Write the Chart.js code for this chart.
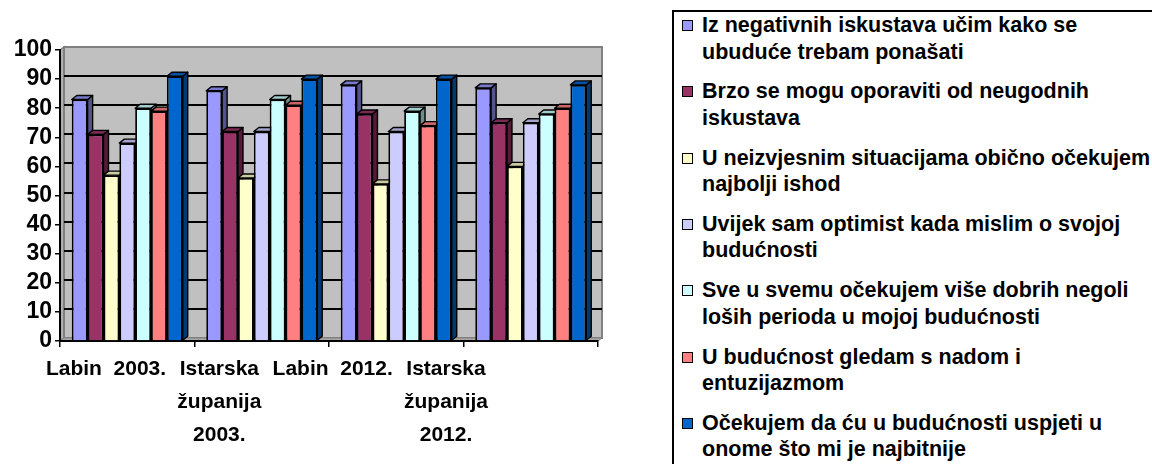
<!DOCTYPE html>
<html>
<head>
<meta charset="utf-8">
<script src="https://cdn.jsdelivr.net/npm/chart.js@4.4.0/dist/chart.umd.min.js"></script>
<style>
html,body{margin:0;padding:0;background:#fff;width:1152px;height:464px;overflow:hidden;}
#wrap{position:absolute;left:0;top:0;width:640px;height:464px;}
#legend{position:absolute;left:672px;top:10px;width:520px;height:490px;border:2px solid #000;box-sizing:border-box;
  font-family:"Liberation Sans",Arial,sans-serif;font-weight:bold;font-size:21.5px;line-height:26.5px;color:#000;}
.item{position:absolute;left:0;width:500px;}
.sw{position:absolute;left:8px;top:8px;width:9px;height:9px;border:1.5px solid #000;}
.tx{position:absolute;left:28px;top:0;white-space:nowrap;}
</style>
</head>
<body>
<div id="wrap"><canvas id="c" width="640" height="464"></canvas></div>
<div id="legend"></div>
<script>
// ---- data ----
const categories = ["Labin 2003.", "Istarska županija 2003.", "Labin 2012.", "Istarska županija 2012."];
const tickLabels = [["Labin  2003."], ["Istarska", "županija", "2003."], ["Labin  2012."], ["Istarska", "županija", "2012."]];
const seriesNames = [
  ["Iz negativnih iskustava učim kako se", "ubuduće trebam ponašati"],
  ["Brzo se mogu oporaviti od neugodnih", "iskustava"],
  ["U neizvjesnim situacijama obično očekujem", "najbolji ishod"],
  ["Uvijek sam optimist kada mislim o svojoj", "budućnosti"],
  ["Sve u svemu očekujem više dobrih negoli", "loših perioda u mojoj budućnosti"],
  ["U budućnost gledam s nadom i", "entuzijazmom"],
  ["Očekujem da ću u budućnosti uspjeti u", "onome što mi je najbitnije"]
];
const negativnaIskustva = [83, 86, 88, 87];
const brzoOporavak      = [71, 72, 78, 75];
const neizvjesnost      = [57, 56, 54, 60];
const optimist          = [68, 72, 72, 75];
const dobrihPerioda     = [80, 83, 79, 78];
const nadaEntuzijazam   = [79, 81, 74, 80];
const uspjeh            = [91, 90, 90, 88];
const seriesValues = [negativnaIskustva, brzoOporavak, neizvjesnost, optimist, dobrihPerioda, nadaEntuzijazam, uspjeh];
const yTicks = [0, 10, 20, 30, 40, 50, 60, 70, 80, 90, 100];
const labelMin = -0.406, labelMax = 4.341;

// ---- styles ----
const colors = ["#9999FF", "#993366", "#FFFFCC", "#CCCCFF", "#CCFFFF", "#FF8080", "#0066CC"];
const FONT = "'Liberation Sans', Arial, sans-serif";
Chart.defaults.font.family = FONT;
Chart.defaults.color = "#000";

function shade(hex, f) {
  const n = parseInt(hex.slice(1), 16);
  const r = Math.round(((n >> 16) & 255) * f), g = Math.round(((n >> 8) & 255) * f), b = Math.round((n & 255) * f);
  return `rgb(${r},${g},${b})`;
}
function poly(ctx, pts, fill) {
  ctx.beginPath();
  ctx.moveTo(pts[0][0], pts[0][1]);
  for (let i = 1; i < pts.length; i++) ctx.lineTo(pts[i][0], pts[i][1]);
  ctx.closePath();
  ctx.fillStyle = fill; ctx.fill();
  ctx.stroke();
}

const WDX = 4, WDY = 3;
const wallPlugin = {
  id: 'wall',
  beforeDraw(chart) {
    const {ctx, chartArea: a, scales: {y}} = chart;
    ctx.save();
    ctx.strokeStyle = '#808080'; ctx.lineWidth = 1.5;
    poly(ctx, [[a.left, a.top], [a.left + WDX, a.top - WDY], [a.left + WDX, a.bottom - WDY], [a.left, a.bottom]], '#b0b0b0');
    ctx.fillStyle = '#c0c0c0';
    ctx.fillRect(a.left + WDX, a.top - WDY, a.right - a.left, a.bottom - a.top);
    ctx.lineWidth = 2;
    ctx.strokeRect(a.left + WDX, a.top - WDY, a.right - a.left, a.bottom - a.top);
    ctx.strokeStyle = '#000'; ctx.lineWidth = 2;
    y.ticks.forEach(t => {
      if (t.value > 0 && t.value < 100) {
        const py = Math.round(y.getPixelForValue(t.value) - WDY);
        ctx.beginPath(); ctx.moveTo(a.left + WDX, py); ctx.lineTo(a.right + WDX, py); ctx.stroke();
      }
    });
    ctx.strokeStyle = '#808080'; ctx.lineWidth = 1;
    poly(ctx, [[a.left, a.bottom], [a.left + WDX, a.bottom - WDY], [a.right + WDX, a.bottom - WDY], [a.right, a.bottom]], '#a8a8a8');
    ctx.restore();
  }
};

const BDX = 5, BDY = 4;
const bar3dPlugin = {
  id: 'bar3d',
  beforeDatasetsDraw(chart) {
    const ctx = chart.ctx;
    const all = [];
    chart.getSortedVisibleDatasetMetas().forEach(m => {
      const col = chart.data.datasets[m.index].backgroundColor;
      m.data.forEach(el => all.push({p: el.getProps(['x', 'y', 'base', 'width'], true), col}));
    });
    ctx.save();
    ctx.strokeStyle = '#000'; ctx.lineWidth = 1.4; ctx.lineJoin = 'round';
    all.forEach(({p, col}) => {
      const r = p.x + p.width / 2;
      poly(ctx, [[r, p.y], [r + BDX, p.y - BDY], [r + BDX, p.base - BDY], [r, p.base]], shade(col, 0.55));
    });
    all.forEach(({p, col}) => {
      const l = p.x - p.width / 2, r = p.x + p.width / 2;
      poly(ctx, [[l, p.y], [l + BDX, p.y - BDY], [r + BDX, p.y - BDY], [r, p.y]], shade(col, 0.8));
    });
    ctx.restore();
  }
};

const datasets = seriesValues.map((vals, i) => ({
  label: seriesNames[i].join(' '),
  data: vals,
  backgroundColor: colors[i],
  borderColor: '#000',
  borderWidth: 1.8,
  categoryPercentage: 0.825,
  barPercentage: 1.0
}));

const chart = new Chart(document.getElementById('c'), {
  type: 'bar',
  data: {labels: categories, datasets},
  plugins: [wallPlugin, bar3dPlugin],
  options: {
    responsive: false,
    animation: false,
    layout: {padding: {left: 0, top: 50, right: 42, bottom: 0}},
    plugins: {legend: {display: false}, tooltip: {enabled: false}},
    scales: {
      y: {
        min: 0, max: 100,
        afterBuildTicks: s => { s.ticks = yTicks.map(v => ({value: v})); },
        afterFit: s => { s.width = 60; },
        ticks: {font: {size: 23, weight: 'bold'}, padding: 3, color: '#000', autoSkip: false},
        grid: {drawOnChartArea: false, tickLength: 5, color: '#000', lineWidth: 1.5},
        border: {color: '#000', width: 2}
      },
      x: {
        weight: 0,
        afterFit: s => { s.height = 8; },
        ticks: {display: false},
        grid: {offset: true, drawOnChartArea: false, tickLength: 6, color: '#000', lineWidth: 1.5},
        border: {color: '#000', width: 2}
      },
      xl: {
        type: 'linear', position: 'bottom', weight: 1,
        offset: false,
        bounds: 'data',
        min: labelMin, max: labelMax,
        afterBuildTicks: s => { s.ticks = tickLabels.map((_, i) => ({value: i})); },
        afterFit: s => { s.height = 115; },
        ticks: {
          callback: v => tickLabels[v],
          font: {size: 21, weight: 'bold', lineHeight: 33 / 21},
          padding: 3.5, color: '#000', maxRotation: 0, minRotation: 0, autoSkip: false
        },
        grid: {display: false, drawTicks: false, offset: false},
        border: {display: false}
      }
    }
  }
});

// HTML legend built from the chart's datasets
const legend = document.getElementById('legend');
chart.data.datasets.forEach((ds, i) => {
  const item = document.createElement('div');
  item.className = 'item';
  item.style.top = (i * 66.3) + 'px';
  const sw = document.createElement('div');
  sw.className = 'sw';
  sw.style.background = ds.backgroundColor;
  const tx = document.createElement('div');
  tx.className = 'tx';
  tx.innerHTML = seriesNames[i].map(s => s.replace(/&/g, '&amp;').replace(/</g, '&lt;')).join('<br>');
  item.appendChild(sw); item.appendChild(tx);
  legend.appendChild(item);
});
</script>
</body>
</html>
